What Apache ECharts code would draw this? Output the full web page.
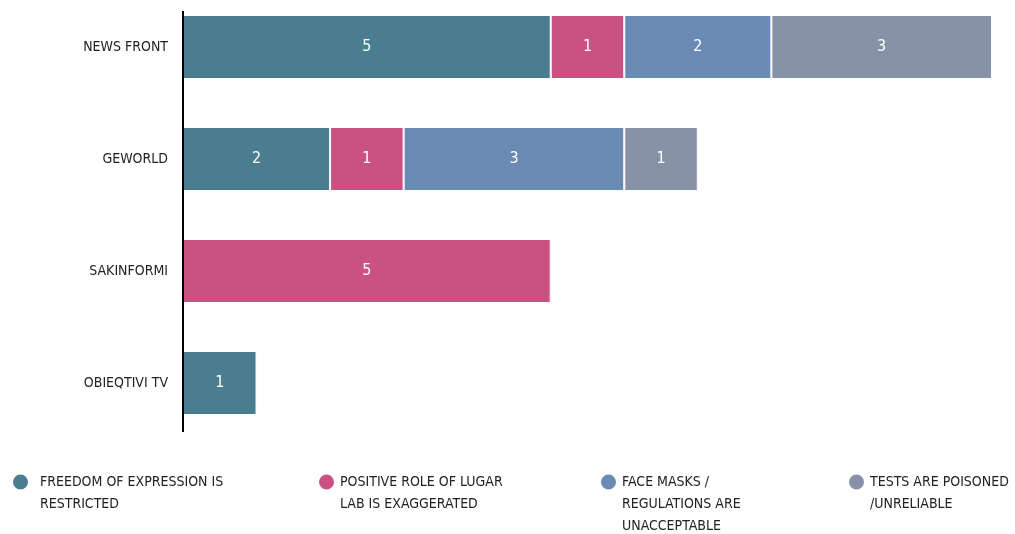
<!DOCTYPE html>
<html>
<head>
	<meta charset="utf-8" />
	<title>Narratives by outlet</title>
	<script type="text/javascript" src="https://cdn.jsdelivr.net/npm/echarts@6/dist/echarts.min.js"></script>
	<style>
		html, body {margin:0;padding:0;background:#fff;}
		#chart {width:1015px;height:534px;}
	</style>
</head>
<body>
	<div id="chart"></div>

	<script>
		// outlets, top to bottom
		var outlets = ['NEWS FRONT', 'GEWORLD', 'SAKINFORMI', 'OBIEQTIVI TV'];

		// one array per narrative (null = not present)
		var freedom = [5, 2, null, 1];
		var lugar   = [1, 1, 5, null];
		var masks   = [2, 3, null, null];
		var tests   = [3, 1, null, null];

		var seriesNames = [
			'FREEDOM OF EXPRESSION IS RESTRICTED',
			'POSITIVE ROLE OF LUGAR LAB IS EXAGGERATED',
			'FACE MASKS / REGULATIONS ARE UNACCEPTABLE',
			'TESTS ARE POISONED /UNRELIABLE'
		];
		// how the legend wraps each name
		var legendLines = [
			['FREEDOM OF EXPRESSION IS', 'RESTRICTED'],
			['POSITIVE ROLE OF LUGAR', 'LAB IS EXAGGERATED'],
			['FACE MASKS /', 'REGULATIONS ARE', 'UNACCEPTABLE'],
			['TESTS ARE POISONED', '/UNRELIABLE']
		];
		var colors = ['#4b7d91', '#c95283', '#688ab3', '#8791a8'];

		var FONT = '"Liberation Sans Narrow", "DejaVu Sans Condensed", "Roboto", sans-serif';
		var LH = 22;

		var dom = document.getElementById('chart');
		var chart = echarts.init(dom);

		var values = [freedom, lugar, masks, tests];

		var series = values.map(function(v, i) {
			return {
				name: seriesNames[i],
				type: 'bar',
				stack: 'total',
				barWidth: 64,
				data: v,
				itemStyle: {color: colors[i], borderColor: '#fff', borderWidth: 1},
				label: {
					show: true,
					position: 'inside',
					color: '#fff',
					fontFamily: FONT,
					fontSize: 16
				},
				emphasis: {disabled: true}
			};
		});

		// one legend per item so each can sit where it does in the original
		// blank lines are put in front so the first line sits level with the dot
		var legendLeft = [11, 317, 599, 847];
		var legendGap = [6, 0, 0, 0];
		var legends = seriesNames.map(function(name, i) {
			var n = legendLines[i].length;
			var pad = [];
			for (var k = 1; k < n; k++) pad.push(' ');
			return {
				data: [name],
				left: legendLeft[i],
				top: 482 - (2 * n - 1) * LH / 2,
				padding: 0,
				icon: 'circle',
				itemWidth: 17,
				itemHeight: 17,
				selectedMode: false,
				formatter: function() { return pad.concat(legendLines[i]).join('\n'); },
				textStyle: {
					fontFamily: FONT,
					fontSize: 14,
					color: '#222',
					lineHeight: LH,
					padding: [0, 0, 0, legendGap[i]]
				}
			};
		});

		var option = {
			animation: false,
			grid: {
				left: 183,
				right: 23,
				top: -9,
				bottom: 95,
				outerBoundsMode: 'none'
			},
			xAxis: {
				type: 'value',
				min: 0,
				max: 11,
				show: false
			},
			yAxis: {
				type: 'category',
				data: outlets,
				inverse: true,
				axisLine: {show: false},
				axisTick: {show: false},
				axisLabel: {
					margin: 15,
					fontFamily: FONT,
					fontSize: 14,
					color: '#222'
				}
			},
			legend: legends,
			series: series,
			graphic: [{
				type: 'line',
				shape: {x1: 183, y1: 11, x2: 183, y2: 432},
				style: {stroke: '#000', lineWidth: 2},
				z: 10
			}]
		};

		chart.setOption(option);
	</script>
</body>
</html>
